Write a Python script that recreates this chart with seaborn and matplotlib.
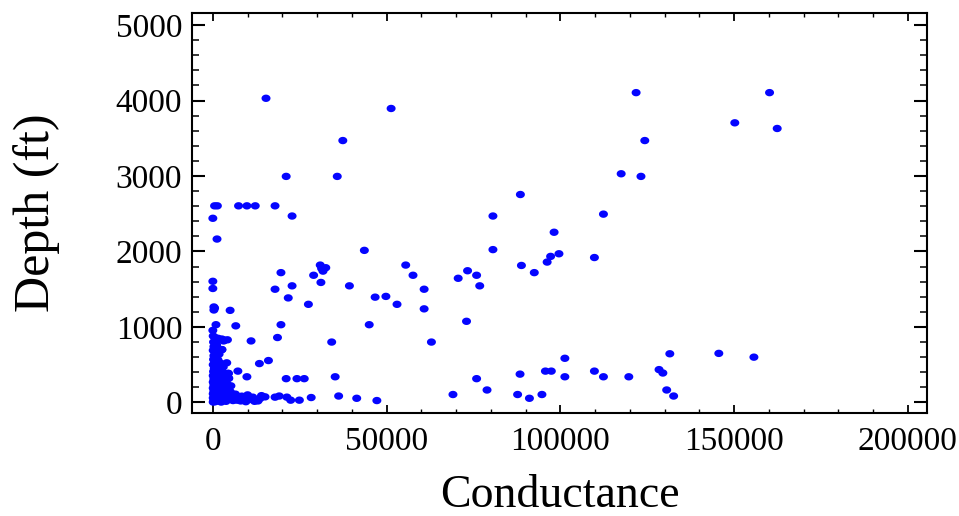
import numpy as np
import pandas as pd
import matplotlib
matplotlib.use("Agg")
import matplotlib.pyplot as plt
from matplotlib.ticker import MultipleLocator
import seaborn as sns

# ---- data ----
conductance_sparse = [
    15300, 51300, 37400, 35800, 21100, 500, 1300, 7400, 9800, 12200, 17900,
    0, 1200, 22800, 43600, 55500, 57600, 30900, 31300, 32500, 31700, 29000,
    31100, 39300, 19600, 22800, 17900, 21700, 46700, 49800, 60800, 70600,
    73300, 75900, 76800, 121800, 160200, 150200, 162400, 124300, 117500,
    123200, 88500, 80600, 112400, 98200, 80600, 97200, 99600, 96200, 88800,
    92500, 109800, 27500, 53000, 60800, 73000, 19600, 45000, 18600, 34200,
    62900, 16000, 13400, 21100, 24200, 26300, 35200, 17900, 19100, 21300,
    22400, 24900, 28300, 36200, 41400, 47200, 69100, 75900, 78900, 88400,
    87700, 91100, 94700, 95700, 97400, 101300, 101300, 109800, 112400,
    119700, 128400, 129500, 131500, 130600, 132600, 145600, 155700,
]
depth_sparse = [
    4030, 3895, 3470, 2995, 2995, 2605, 2605, 2605, 2605, 2605, 2605,
    2440, 2165, 2470, 2015, 1820, 1685, 1820, 1775, 1785, 1740, 1685,
    1590, 1545, 1720, 1545, 1500, 1385, 1395, 1405, 1500, 1645,
    1745, 1685, 1545, 4105, 4105, 3705, 3630, 3470, 3030,
    2995, 2755, 2470, 2495, 2255, 2025, 1935, 1970, 1860, 1815,
    1720, 1920, 1300, 1300, 1240, 1075, 1030, 1030, 860, 800,
    800, 555, 515, 315, 315, 315, 340, 70, 85, 70,
    30, 30, 65, 85, 55, 25, 105, 315, 165, 375,
    105, 55, 105, 415, 415, 585, 340, 415, 340,
    340, 435, 390, 645, 165, 85, 650, 600,
]

conductance_low = [
    0, 0, 300, 300, 500, 4970, 900, 0, 6600, 11000, 3100, 2600, 4000, 7200,
    9800, 4500, 4500, 4970, 8330, 10720, 13590, 15030,
    100, 600, 1500, 2600, 3300, 4200, 200, 900, 300, 1200, 2600, 100, 700,
    1800, 300, 1000, 200, 1500, 600, 2200, 100, 900, 3000, 400, 1600, 200,
    2800, 700, 4400, 1200, 100, 3600, 500, 2000, 4600, 300, 1100, 2800, 100,
    700, 4000, 1800, 300, 5200, 1000, 2500, 100, 3800, 600, 1500, 300, 5000,
    2200, 800, 100, 3200, 1300, 500, 6000, 2000, 100, 4200, 900, 2800, 300,
    1600, 7000, 3800, 100, 9000, 11500, 12500, 14000, 6500, 8000, 5500, 700,
    2400, 1200, 600, 1900, 400, 1300, 3400, 800, 2100, 500, 1700, 10000,
    12000, 3000, 5800, 7600, 9500, 13000, 1100,
]
depth_low = [
    1605, 1510, 1265, 1225, 1250, 1220, 1030, 955, 1015, 815, 815, 700, 525,
    415, 340, 385, 320, 95, 83, 40, 53, 74,
    880, 860, 850, 840, 825, 830, 800, 780, 740, 720, 700, 690, 660,
    640, 620, 600, 570, 560, 540, 520, 500, 480, 470, 450, 430, 410,
    400, 390, 385, 370, 355, 350, 340, 330, 320, 310, 295, 285, 270,
    260, 250, 240, 230, 220, 210, 200, 190, 180, 170, 160, 150, 145,
    135, 125, 115, 105, 95, 85, 80, 70, 60, 55, 45, 35, 25,
    20, 30, 15, 5, 60, 70, 30, 90, 110, 20, 40, 10,
    5, 580, 510, 440, 360, 275, 245, 195, 120, 65, 40, 100,
    15, 75, 25, 55, 10, 20, 760,
]

x_ticks = [0, 50000, 100000, 150000, 200000]
y_ticks = [0, 1000, 2000, 3000, 4000, 5000]

df = pd.DataFrame({
    "Conductance": conductance_sparse + conductance_low,
    "Depth (ft)": depth_sparse + depth_low,
})

# ---- style ----
sns.set_style("ticks")
plt.rcParams["font.family"] = ["Liberation Serif", "DejaVu Serif"]
plt.rcParams["text.color"] = "black"
plt.rcParams["axes.labelcolor"] = "black"
plt.rcParams["xtick.color"] = "black"
plt.rcParams["ytick.color"] = "black"

fig = plt.figure(figsize=(9.59, 5.16), dpi=100)
ax = fig.add_axes([0.2002, 0.1996, 0.7664, 0.7752])

theta = np.linspace(0, 2 * np.pi, 41)
ellipse = list(zip(np.cos(theta), 0.82 * np.sin(theta)))

sns.scatterplot(data=df, x="Conductance", y="Depth (ft)", ax=ax,
                marker=ellipse, s=42, color="#0505ff", edgecolor="none",
                linewidth=0)

ax.set_xlim(-6000, 205500)
ax.set_ylim(-140, 5160)
ax.set_xticks(x_ticks)
ax.set_yticks(y_ticks)
ax.set_xticklabels([str(v) for v in x_ticks])
ax.set_yticklabels([str(v) for v in y_ticks])
ax.xaxis.set_minor_locator(MultipleLocator(10000))
ax.yaxis.set_minor_locator(MultipleLocator(200))

for sp in ax.spines.values():
    sp.set_visible(True)
    sp.set_linewidth(1.5)
    sp.set_color("black")

ax.tick_params(axis="x", which="major", direction="in", length=6, width=1.3,
               top=True, bottom=True, labelsize=24, pad=10, colors="black")
ax.tick_params(axis="x", which="minor", direction="in", length=3, width=1.0,
               top=True, bottom=True)
ax.tick_params(axis="y", which="major", direction="in", length=9.5, width=1.5,
               left=True, right=True, labelsize=24, pad=7, colors="black")
ax.tick_params(axis="y", which="minor", direction="in", length=5, width=1.1,
               left=True, right=True)

ax.set_xlabel("Conductance", fontsize=33, labelpad=12, color="black")
ax.set_ylabel("Depth (ft)", fontsize=36, labelpad=40, color="black")

fig.savefig("out.png", dpi=100, facecolor="white")
